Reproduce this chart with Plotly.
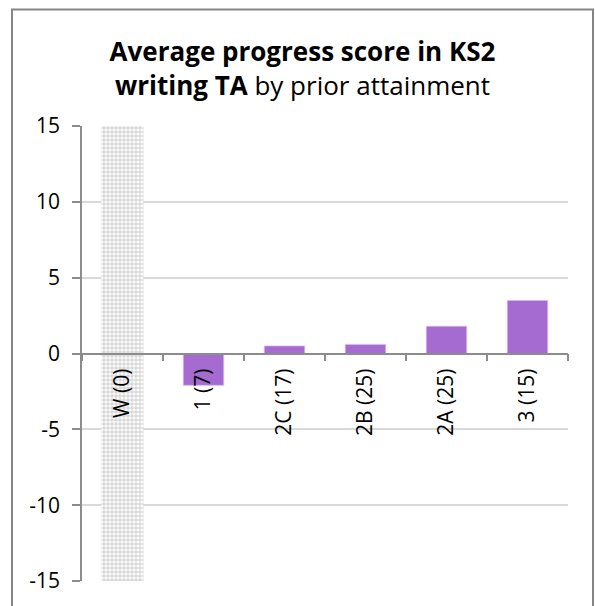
import plotly.graph_objects as go

# Prior attainment groups (pupil counts in brackets) and average progress scores
categories = ["W (0)", "1 (7)", "2C (17)", "2B (25)", "2A (25)", "3 (15)"]
scores = [None, -2.1, 0.5, 0.6, 1.8, 3.5]
has_pupils = [False, True, True, True, True, True]
y_ticks = [-15, -10, -5, 0, 5, 10, 15]
y_tick_labels = ["-15", "-10", "-5", "0", "5", "10", "15"]

y_min, y_max = y_ticks[0], y_ticks[-1]
font_family = "Open Sans, Noto Sans, sans-serif"

fig = go.Figure()

# Groups with no pupils are shown as a full-height shaded column
empty_cats = [c for c, h in zip(categories, has_pupils) if not h]
fig.add_trace(go.Bar(
    x=empty_cats,
    y=[y_max - y_min] * len(empty_cats),
    base=[y_min] * len(empty_cats),
    width=0.52,
    marker=dict(
        color="white",
        line=dict(width=0),
        pattern=dict(shape=".", fgcolor="#b0b0b0", bgcolor="white",
                     size=4, solidity=0.65),
    ),
    hoverinfo="skip",
    showlegend=False,
))

fig.add_trace(go.Bar(
    x=categories,
    y=scores,
    width=0.5,
    marker=dict(color="#a56bd0", line=dict(color="#d6bdf0", width=0.8)),
    showlegend=False,
))

W, H = 595, 606
left, right, top, bottom = 82, 27, 126, 19
pw, ph = W - left - right, H - top - bottom
frame_left, frame_right, frame_top = 12, 593, 8

# Outer chart border
fig.add_shape(
    type="rect", xref="paper", yref="paper",
    x0=(frame_left - left) / pw, x1=(frame_right - left) / pw,
    y0=-(40) / ph, y1=1 + (top - frame_top) / ph,
    line=dict(color="#858585", width=2), fillcolor="rgba(0,0,0,0)",
    layer="below",
)

fig.update_layout(
    width=W, height=H,
    margin=dict(l=left, r=right, t=top, b=bottom),
    paper_bgcolor="white", plot_bgcolor="white",
    barmode="overlay",
    font=dict(family=font_family, color="#000000", size=18),
    title=dict(
        text="<b>Average progress score in KS2</b><br><b>writing TA</b> by prior attainment",
        x=(frame_left + frame_right) / 2 / W, xref="container", xanchor="center",
        y=1 - 61 / H, yref="container", yanchor="middle",
        font=dict(family=font_family, size=26, color="#000000"),
    ),
    xaxis=dict(
        type="category",
        categoryorder="array", categoryarray=categories,
        anchor="free", position=(0 - y_min) / (y_max - y_min),
        showline=True, linecolor="#8c8c8c", linewidth=1.5,
        ticks="outside", ticklen=7, tickcolor="#8c8c8c", tickwidth=1.5,
        tickson="boundaries",
        tickangle=-90,
        ticklabelstandoff=6,
        tickfont=dict(size=21, family=font_family),
        showgrid=False, zeroline=False,
        range=[-0.5, len(categories) - 0.5],
    ),
    yaxis=dict(
        range=[y_min, y_max],
        tickvals=y_ticks,
        ticktext=y_tick_labels,
        ticks="outside", ticklen=8, tickcolor="#8c8c8c", tickwidth=1.5,
        ticklabelstandoff=8,
        showline=True, linecolor="#8c8c8c", linewidth=1.5,
        showgrid=True, gridcolor="#d9d9d9", gridwidth=1.5,
        zeroline=False,
        tickfont=dict(size=21, family=font_family),
    ),
)

fig.write_html("out.html")
